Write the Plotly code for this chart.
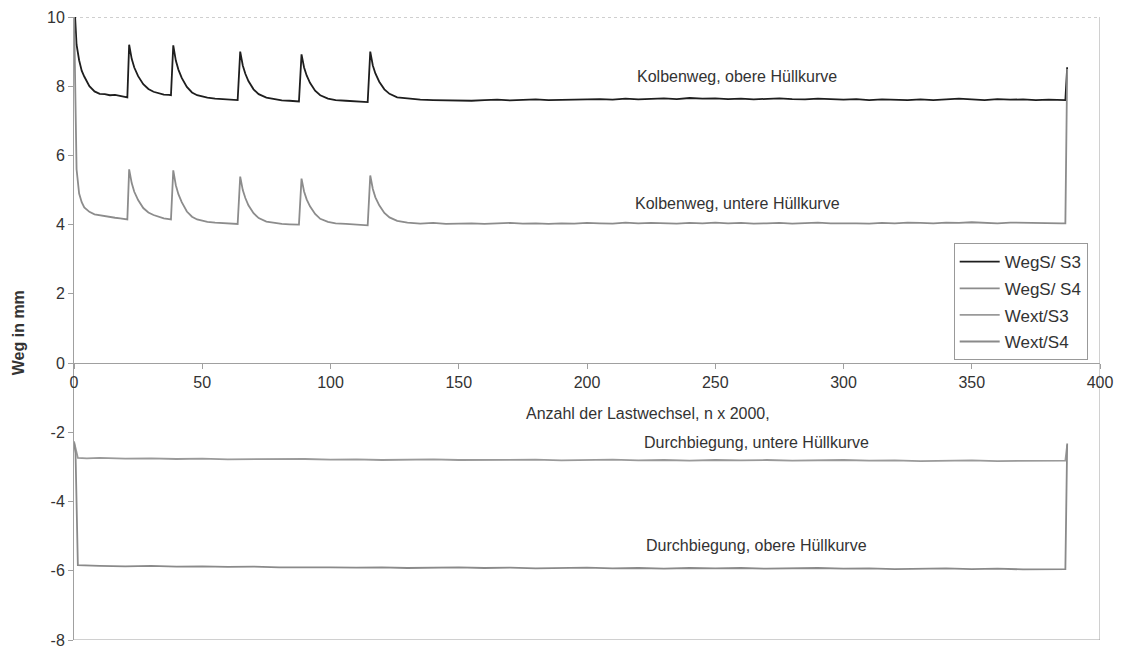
import plotly.graph_objects as go

# ---- data ----
n_kolben = [0, 0.5, 1, 2, 3, 4, 5, 6, 8, 10,
            12, 14, 16, 18, 20, 20.8, 21.5, 22.5, 23.5, 25,
            27, 29, 31, 33, 35, 37, 37.8, 38.7, 39.7, 40.7,
            42, 44, 46, 48, 50, 52, 55, 58, 61, 63.8,
            64.8, 65.8, 66.8, 68, 70, 72, 75, 78, 81, 84,
            87.7, 88.7, 89.7, 90.7, 92, 94, 96, 99, 102, 106,
            110, 114.5, 115.5, 116.5, 117.5, 119, 121, 123, 126,
            130, 135, 140, 145, 150, 155, 160, 165, 170, 175,
            180, 185, 190, 195, 200, 205, 210, 215, 220, 225,
            230, 235, 240, 245, 250, 255, 260, 265, 270, 275,
            280, 285, 290, 295, 300, 305, 310, 315, 320, 325,
            330, 335, 340, 345, 350, 355, 360, 365, 370, 375,
            380, 385, 386.5, 387.2]

wegs_s3 = [10.6, 9.8, 9.2, 8.75, 8.45, 8.28, 8.15, 8.0, 7.85, 7.78,
           7.77, 7.74, 7.75, 7.72, 7.7, 7.68, 9.2, 8.79, 8.54, 8.29,
           8.06, 7.92, 7.84, 7.8, 7.76, 7.75, 7.74, 9.18, 8.74, 8.48,
           8.24, 7.98, 7.82, 7.74, 7.7, 7.67, 7.64, 7.62, 7.6, 7.6,
           9.0, 8.6, 8.36, 8.15, 7.91, 7.77, 7.67, 7.62, 7.59, 7.58,
           7.56, 8.92, 8.54, 8.31, 8.1, 7.87, 7.74, 7.64, 7.6, 7.58,
           7.57, 7.54, 9.0, 8.6, 8.37, 8.13, 7.91, 7.78, 7.68,
           7.64, 7.61, 7.6, 7.59, 7.6, 7.58, 7.6, 7.61, 7.59, 7.6,
           7.62, 7.6, 7.61, 7.6, 7.62, 7.63, 7.61, 7.64, 7.62, 7.63,
           7.65, 7.63, 7.66, 7.64, 7.65, 7.63, 7.64, 7.62, 7.63, 7.65,
           7.63, 7.62, 7.64, 7.62, 7.61, 7.63, 7.6, 7.62, 7.61, 7.6,
           7.62, 7.6, 7.62, 7.64, 7.62, 7.6, 7.63, 7.61, 7.62, 7.6,
           7.61, 7.6, 7.6, 8.55]

wegs_s4 = [10.2, 7.0, 5.6, 4.9, 4.65, 4.5, 4.42, 4.37, 4.3, 4.27,
           4.25, 4.22, 4.2, 4.18, 4.17, 4.15, 5.6, 5.2, 4.95, 4.71,
           4.48, 4.35, 4.28, 4.22, 4.18, 4.16, 4.15, 5.57, 5.14, 4.88,
           4.65, 4.38, 4.23, 4.15, 4.11, 4.08, 4.06, 4.05, 4.03, 4.02,
           5.39, 5.0, 4.77, 4.56, 4.33, 4.19, 4.09, 4.05, 4.02, 4.01,
           4.0, 5.33, 4.96, 4.73, 4.53, 4.31, 4.17, 4.08, 4.04, 4.02,
           4.0, 3.98, 5.42, 5.03, 4.79, 4.56, 4.34, 4.21, 4.11,
           4.06, 4.03, 4.05, 4.02, 4.03, 4.04, 4.02, 4.03, 4.05, 4.03,
           4.04, 4.02, 4.04, 4.03, 4.05, 4.04, 4.03, 4.06, 4.04, 4.05,
           4.04, 4.03, 4.05, 4.04, 4.06, 4.04, 4.05, 4.03, 4.04, 4.05,
           4.03, 4.04, 4.06, 4.04, 4.05, 4.04, 4.03, 4.05, 4.04, 4.06,
           4.05, 4.04, 4.06, 4.05, 4.07, 4.05, 4.04, 4.06, 4.05, 4.04,
           4.03, 4.04, 4.04, 8.5]

n_wext = [0, 0.6, 1.5, 5, 10, 20, 30, 40, 50, 60,
          70, 80, 90, 100, 110, 120, 130, 140, 150, 160,
          170, 180, 190, 200, 210, 220, 230, 240, 250, 260,
          270, 280, 290, 300, 310, 320, 330, 340, 350, 360,
          370, 380, 386.5, 387.2]

wext_s3 = [-2.26, -2.45, -2.74, -2.75, -2.74, -2.76, -2.75, -2.77, -2.76, -2.78,
           -2.77, -2.78, -2.77, -2.79, -2.78, -2.8, -2.79, -2.78, -2.8, -2.79,
           -2.8, -2.79, -2.81, -2.8, -2.79, -2.81, -2.8, -2.82, -2.8, -2.81,
           -2.8, -2.82, -2.81, -2.8, -2.82, -2.81, -2.83, -2.82, -2.81, -2.83,
           -2.82, -2.83, -2.82, -2.37]

wext_s4 = [-2.3, -2.6, -5.84, -5.85, -5.86, -5.87, -5.86, -5.88, -5.87, -5.89,
           -5.88, -5.9, -5.89, -5.9, -5.91, -5.9, -5.92, -5.91, -5.9, -5.92,
           -5.91, -5.93, -5.92, -5.91, -5.93, -5.92, -5.94, -5.92, -5.93, -5.92,
           -5.94, -5.93, -5.92, -5.94, -5.93, -5.95, -5.94, -5.93, -5.95, -5.94,
           -5.96, -5.95, -5.95, -2.32]

x_ticks = [0, 50, 100, 150, 200, 250, 300, 350, 400]
y_ticks = [-8, -6, -4, -2, 0, 2, 4, 6, 8, 10]
y_ticktext = ["-8", "-6", "-4", "-2", "0", "2", "4", "6", "8", "10"]

series_names = ["WegS/ S3", "WegS/ S4", "Wext/S3", "Wext/S4"]
series_colors = ["#1e1e1e", "#8c8c8c", "#9a9a9a", "#8a8a8a"]

labels = [
    ("Kolbenweg, obere Hüllkurve", 258.5, 8.27),
    ("Kolbenweg, untere Hüllkurve", 258.5, 4.62),
    ("Durchbiegung, untere Hüllkurve", 265.9, -2.28),
    ("Durchbiegung, obere Hüllkurve", 265.9, -5.26),
    ("Anzahl der Lastwechsel, n x 2000,", 223.8, -1.45),
]

assert len(n_kolben) == len(wegs_s3) == len(wegs_s4)
assert len(n_wext) == len(wext_s3) == len(wext_s4)

FONT = "Liberation Sans, Arial, sans-serif"

fig = go.Figure()
data = [(n_kolben, wegs_s3), (n_kolben, wegs_s4), (n_wext, wext_s3), (n_wext, wext_s4)]
for i, ((xs, ys), name, col) in enumerate(zip(data, series_names, series_colors)):
    fig.add_trace(go.Scatter(x=xs, y=ys, mode="lines", name=name,
                             legendgroup=f"g{i}",
                             line=dict(color=col, width=1.8)))

for text, x, y in labels:
    fig.add_annotation(x=x, y=y, xref="x", yref="y", text=text, showarrow=False,
                       font=dict(size=16, color="#333333", family=FONT),
                       xanchor="center", yanchor="middle")

fig.add_annotation(xref="paper", yref="paper", x=-0.0546, y=0.494,
                   text="<b>Weg in mm</b>", textangle=-90, showarrow=False,
                   font=dict(size=16, color="#333333", family=FONT),
                   xanchor="center", yanchor="middle")

# frame
fig.add_shape(type="line", xref="x", yref="y", x0=0, x1=400, y0=10, y1=10,
              line=dict(color="#a0a0a0", width=1, dash="dot"), layer="below")
fig.add_shape(type="line", xref="x", yref="y", x0=400, x1=400, y0=-8, y1=10,
              line=dict(color="#a0a0a0", width=1), layer="below")
fig.add_shape(type="line", xref="x", yref="y", x0=0, x1=400, y0=-8, y1=-8,
              line=dict(color="#a0a0a0", width=1), layer="below")

fig.update_layout(
    width=1115, height=640,
    margin=dict(l=66, r=23, t=9, b=8, autoexpand=False),
    plot_bgcolor="white", paper_bgcolor="white",
    font=dict(family=FONT, size=16, color="#333333"),
    showlegend=True,
    legend=dict(x=0.988, xanchor="right", y=0.637, yanchor="top",
                bordercolor="#999999", borderwidth=1, bgcolor="white",
                font=dict(size=17, color="#333333", family=FONT),
                tracegroupgap=1.5, itemwidth=40),
    xaxis=dict(range=[0, 400], tickvals=x_ticks, anchor="free", position=8 / 18,
               showline=True, linecolor="#a0a0a0", linewidth=1,
               ticks="outside", ticklen=5, tickcolor="#a0a0a0",
               showgrid=False, zeroline=False, tickfont=dict(size=16)),
    yaxis=dict(range=[-8, 10], tickvals=y_ticks, ticktext=y_ticktext,
               ticklabeloverflow="allow",
               showline=True, linecolor="#a0a0a0", linewidth=1,
               ticks="outside", ticklen=5, tickcolor="#a0a0a0",
               showgrid=False, zeroline=False, tickfont=dict(size=16)),
)

fig.write_html("out.html")
